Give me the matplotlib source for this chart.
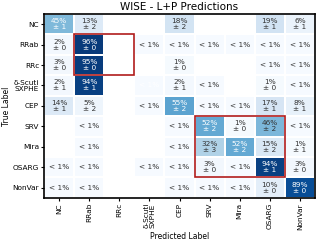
import numpy as np
import matplotlib
matplotlib.use("Agg")
import matplotlib.pyplot as plt
from matplotlib.patches import Rectangle

# class labels (true = rows, predicted = columns)
labels = ["NC", "RRab", "RRc", "δ-Scuti\nSXPHE", "CEP", "SRV", "Mira", "OSARG", "NonVar"]

# mean percentage per cell, None = empty cell, 0.4 = "< 1%"
means = [
    [45, 13, None, None, 18, None, None, 19, 6],
    [2, 96, None, 0.4, 0.4, 0.4, 0.4, 0.4, 0.4],
    [3, 95, None, None, 1, None, None, 0.4, 0.4],
    [2, 94, None, 0.4, 2, 0.4, None, 1, 0.4],
    [14, 5, None, 0.4, 55, 0.4, 0.4, 17, 8],
    [None, 0.4, None, None, 0.4, 52, 1, 46, 0.4],
    [None, 0.4, None, None, 0.4, 32, 52, 15, 1],
    [0.4, 0.4, None, 0.4, 0.4, 3, 0.4, 94, 3],
    [0.4, 0.4, None, None, 0.4, 0.4, 0.4, 10, 89],
]
# spread per cell
stds = [
    [1, 2, 0, 0, 2, 0, 0, 1, 1],
    [0, 0, 0, 0, 0, 0, 0, 0, 0],
    [0, 0, 0, 0, 0, 0, 0, 0, 0],
    [1, 1, 0, 0, 1, 0, 0, 0, 0],
    [1, 2, 0, 0, 2, 0, 0, 1, 1],
    [0, 0, 0, 0, 0, 2, 0, 2, 0],
    [0, 0, 0, 0, 0, 3, 2, 2, 1],
    [0, 0, 0, 0, 0, 0, 0, 1, 0],
    [0, 0, 0, 0, 0, 0, 0, 0, 0],
]
# highlighted blocks: (first col, first row, n cols, n rows)
boxes = [(1, 1, 2, 2), (5, 5, 3, 3)]

n = len(labels)
vals = np.array([[np.nan if v is None else v for v in row] for row in means], dtype=float)
masked = np.ma.masked_invalid(vals)

fig = plt.figure(figsize=(3.2, 2.44), dpi=100)
ax = fig.add_axes([0.138, 0.189, 0.846, 0.754])

ax.pcolormesh(np.arange(n + 1) - 0.5, np.arange(n + 1) - 0.5, masked,
              cmap="Blues", vmin=0, vmax=100, edgecolors="white", linewidth=0.3)
ax.set_xlim(-0.5, n - 0.5)
ax.set_ylim(n - 0.5, -0.5)

for i in range(n):
    for j in range(n):
        m = means[i][j]
        if m is None:
            continue
        if m < 1:
            txt = "< 1%"
        else:
            txt = f"{m}%\n± {stds[i][j]}"
        col = "white" if (m > 50 or i == j) else "#333333"
        ax.text(j, i, txt, ha="center", va="center", fontsize=5.3, color=col,
                linespacing=1.0)

for (c, r, w, h) in boxes:
    ax.add_patch(Rectangle((c - 0.5, r - 0.5), w, h, fill=False,
                           edgecolor="#b01c1c", linewidth=1.2, zorder=5))

ax.set_xticks(range(n))
ax.set_xticklabels(labels, rotation=90, fontsize=5.3, linespacing=0.95)
ax.set_yticks(range(n))
ax.set_yticklabels(labels, fontsize=5.3, linespacing=0.95)
ax.tick_params(length=2.5, width=0.8, pad=1.2)
for s in ax.spines.values():
    s.set_linewidth(1.2)

ax.set_title("WISE - L+P Predictions", fontsize=7.5, pad=3)
ax.set_xlabel("Predicted Label", fontsize=5.5, labelpad=2)
ax.set_ylabel("True Label", fontsize=5.5, labelpad=1)

fig.savefig("out.png", dpi=100)
